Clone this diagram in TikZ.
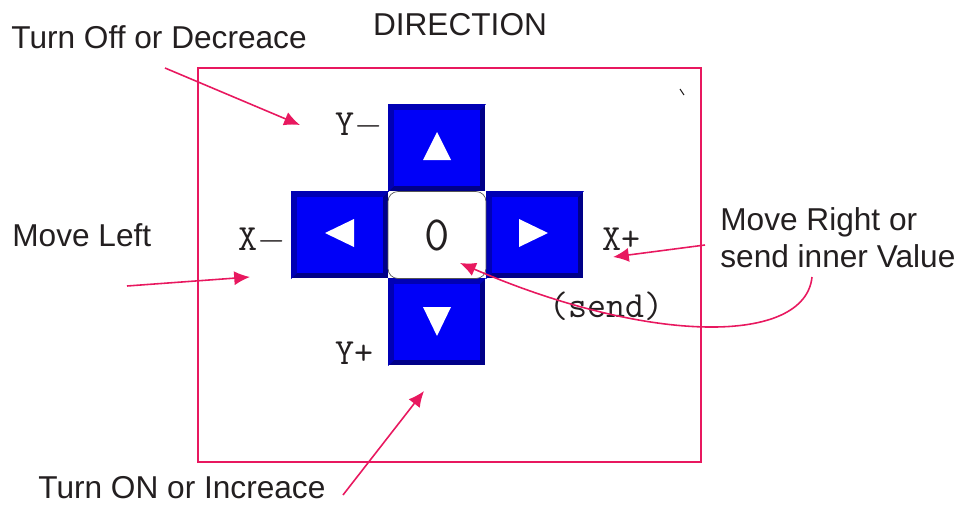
\documentclass[tikz,border=0pt]{standalone}
\usepackage{fontspec}
\setmainfont{Liberation Sans}
\usetikzlibrary{arrows.meta,calc}
\definecolor{ink}{HTML}{231F20}
\definecolor{pink}{HTML}{E8185F}
\definecolor{keydark}{HTML}{000088}
\definecolor{keyedge}{HTML}{0000B4}
\definecolor{keyface}{HTML}{0000F8}
\definecolor{rim}{HTML}{555555}

\begin{document}
\begin{tikzpicture}[x=0.02cm,y=-0.02cm,>=Latex,
  key/.style={fill=keydark,minimum width=1.94cm,minimum height=1.74cm,inner sep=0pt},
  call/.style={font=\fontsize{18}{21}\selectfont,text=ink,inner sep=0pt},
  tag/.style={font=\ttfamily\fontsize{21}{24}\selectfont,text=ink,inner sep=0pt},
  pointer/.style={pink,line width=0.9pt,-{Latex[length=9pt,width=8pt]}}]
\useasboundingbox (0,0) rectangle (974,504);
\draw[pink,line width=0.8pt] (198,68) rectangle (701,462);
\draw[ink,line width=0.6pt] (680,89) -- (684,95);
% keypad
\foreach \n/\cx/\cy in {up/437/148,lt/340/235,rt/535/235,dn/437/322}{
  \node[key] (\n) at (\cx,\cy) {};
  \fill[keyedge] (\n.south west) -- (\n.north west) -- (\n.north east)
    -- ($(\n.north east)+(-6,6)$) -- ($(\n.south west)+(6,-6)$) -- cycle;
  \fill[keyface] ($(\n.north west)+(6,6)$) rectangle ($(\n.south east)+(-6,-6)$);}
\node[draw=rim,fill=white,rounded corners=0.2cm,minimum width=1.96cm,minimum height=1.74cm,
  inner sep=0pt,font=\ttfamily\fontsize{28}{30}\selectfont,text=ink] (ctr) at (437,235) {0};
\foreach \n/\a/\b/\c in {up/{-14,12}/{14,12}/{0,-16},lt/{14,-16}/{14,12}/{-15,-2},
  rt/{-16,-16}/{-16,12}/{13,-2},dn/{-14,-15}/{14,-15}/{0,14}}{
  \fill[white] ($(\n)+(\a)$) -- ($(\n)+(\b)$) -- ($(\n)+(\c)$) -- cycle;}
% key labels
\node[tag,anchor=base west] (ym) at (335,135) {Y$-$};
\node[tag,anchor=base west] (xm) at (238,250) {X$-$};
\node[tag,anchor=base west] (xp) at (602,250) {X+};
\node[tag,anchor=base west] (yp) at (335,364) {Y+};
\node[tag,anchor=base west] (snd) at (549,317) {(send)};
% callouts
\node[call,anchor=base] (title) at (460,35) {DIRECTION};
\node[call,anchor=base west] (off) at (11,48) {Turn Off or Decreace};
\node[call,anchor=base west] (left) at (12,246) {Move Left};
\node[call,anchor=north west,align=left] (right) at (720,207) {Move Right or\\send inner Value};
\node[call,anchor=base west] (on) at (38,498) {Turn ON or Increace};
\coordinate (offtail) at (165,68);   \coordinate (offtip) at (300,125);
\coordinate (lefttail) at (127,286); \coordinate (lefttip) at (250,277);
\coordinate (ontail) at (343,495);   \coordinate (ontip) at (424,391);
\coordinate (righttail) at (705,245); \coordinate (righttip) at (613,257);
\coordinate (sendtail) at (812,277); \coordinate (sendtip) at (460,263);
\draw[pointer] (offtail) -- (offtip);
\draw[pointer] (lefttail) -- (lefttip);
\draw[pointer] (ontail) -- (ontip);
\draw[pointer] (righttail) -- (righttip);
\draw[pointer] (sendtail) .. controls (805,345) and (650,345) .. (sendtip);
\end{tikzpicture}
\end{document}
